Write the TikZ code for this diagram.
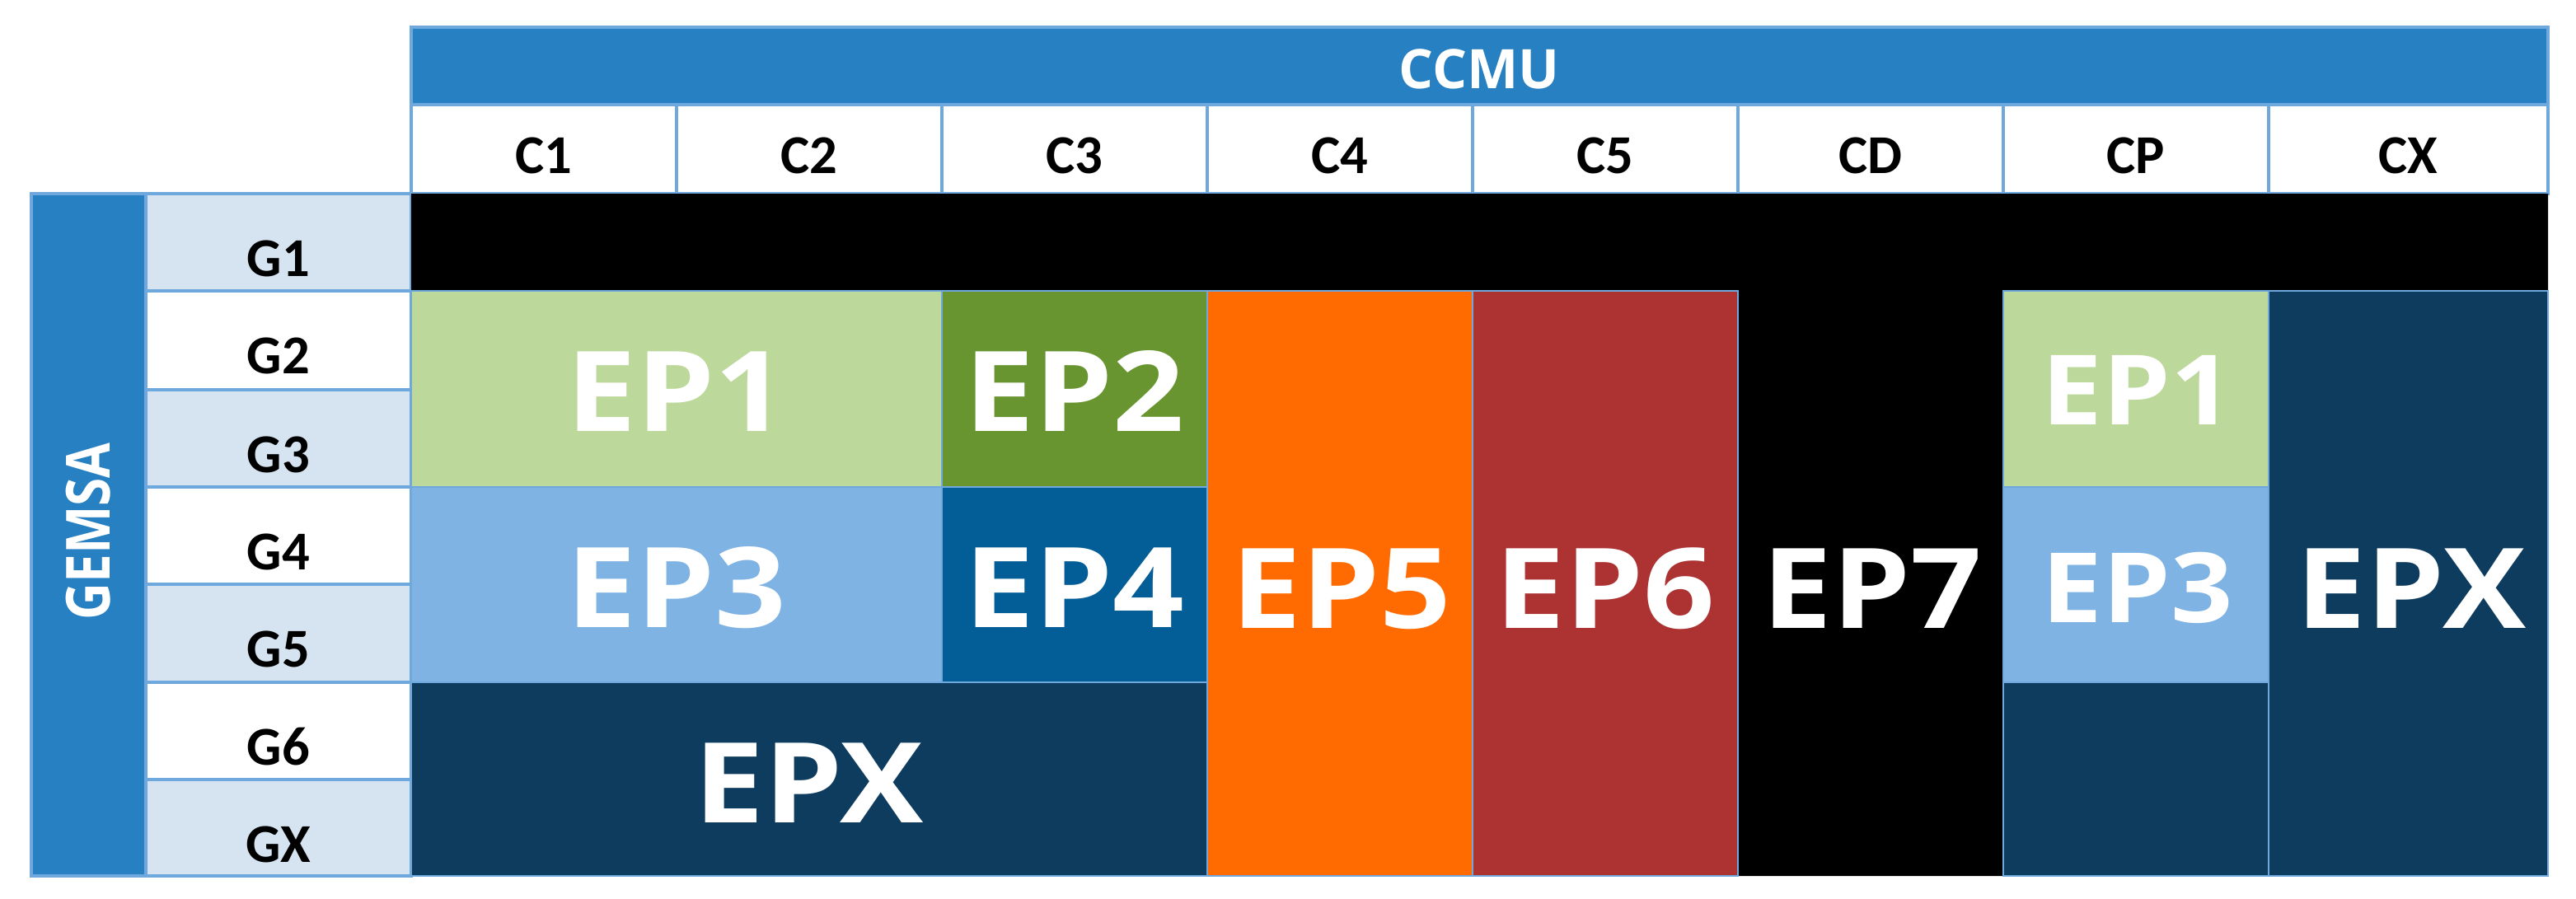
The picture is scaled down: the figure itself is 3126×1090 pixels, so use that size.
\documentclass[tikz,border=0pt]{standalone}
\usepackage{fontspec}
\setmainfont{Carlito}
\newfontfamily\osans{Open Sans}
\newfontfamily\epfont{Open Sans}[FakeStretch=1.12]
\newfontfamily\gemfont{Open Sans}[FakeStretch=0.84]
\definecolor{headblue}{RGB}{38,128,194}
\definecolor{gridline}{RGB}{111,168,220}
\definecolor{lightrow}{RGB}{214,228,241}
\definecolor{epone}{RGB}{188,216,154}
\definecolor{eptwo}{RGB}{105,149,48}
\definecolor{epthree}{RGB}{126,179,228}
\definecolor{epfour}{RGB}{3,94,151}
\definecolor{epfive}{RGB}{255,107,0}
\definecolor{epsix}{RGB}{173,51,51}
\definecolor{epx}{RGB}{14,60,94}
\begin{document}
\begin{tikzpicture}[x=0.01cm,y=-0.01cm,
  cellbox/.style={draw=gridline, line width=1.1pt},
  blockbox/.style={draw=gridline, line width=0.6pt},
  hdrlabel/.style={font=\fontsize{18.9}{20}\selectfont\bfseries, text=black, anchor=base, inner sep=0pt},
  eplabel/.style={font=\epfont\fontsize{38.5}{40}\selectfont\bfseries, text=white, anchor=base, inner sep=0pt},
  epsmall/.style={font=\epfont\fontsize{33.5}{35}\selectfont\bfseries, text=white, anchor=base, inner sep=0pt},
  titlelabel/.style={font=\osans\fontsize{18.8}{20}\selectfont\bfseries, text=white, inner sep=0pt},
  sidelabel/.style={font=\gemfont\fontsize{21}{22}\selectfont\bfseries, text=white, inner sep=0pt}]
\useasboundingbox (0,0) rectangle (3126,1090);
\fill[white] (0,0) rectangle (3126,1090);

% CCMU header
\draw[cellbox, fill=headblue] (499,33) rectangle (3092,127);
\node[titlelabel, anchor=base] (ccmu) at (1795,107) {CCMU};

% column headers
\draw[cellbox, fill=white] (499,127) rectangle (821,235);
\draw[cellbox, fill=white] (821,127) rectangle (1143,235);
\draw[cellbox, fill=white] (1143,127) rectangle (1465,235);
\draw[cellbox, fill=white] (1465,127) rectangle (1787,235);
\draw[cellbox, fill=white] (1787,127) rectangle (2109,235);
\draw[cellbox, fill=white] (2109,127) rectangle (2431,235);
\draw[cellbox, fill=white] (2431,127) rectangle (2753,235);
\draw[cellbox, fill=white] (2753,127) rectangle (3092,235);
\node[hdrlabel] (c1) at (660,210) {C1};
\node[hdrlabel] (c2) at (982,210) {C2};
\node[hdrlabel] (c3) at (1304,210) {C3};
\node[hdrlabel] (c4) at (1626,210) {C4};
\node[hdrlabel] (c5) at (1948,210) {C5};
\node[hdrlabel] (cd) at (2270,210) {CD};
\node[hdrlabel] (cp) at (2592,210) {CP};
\node[hdrlabel] (cx) at (2922,210) {CX};

% GEMSA
\draw[cellbox, fill=headblue] (38,235) rectangle (177,1063);
\node[sidelabel, rotate=90] (gemsa) at (107,645) {GEMSA};

% row headers
\draw[cellbox, fill=lightrow] (177,235) rectangle (499,353);
\draw[cellbox, fill=white] (177,353) rectangle (499,473);
\draw[cellbox, fill=lightrow] (177,473) rectangle (499,591);
\draw[cellbox, fill=white] (177,591) rectangle (499,709);
\draw[cellbox, fill=lightrow] (177,709) rectangle (499,828);
\draw[cellbox, fill=white] (177,828) rectangle (499,946);
\draw[cellbox, fill=lightrow] (177,946) rectangle (499,1063);
\node[hdrlabel] (g1) at (338,335) {G1};
\node[hdrlabel] (g2) at (338,453) {G2};
\node[hdrlabel] (g3) at (338,573) {G3};
\node[hdrlabel] (g4) at (338,691) {G4};
\node[hdrlabel] (g5) at (338,809) {G5};
\node[hdrlabel] (g6) at (338,928) {G6};
\node[hdrlabel] (gx) at (338,1046) {GX};

% black region (G1 row + CD column)
\fill[black] (499,235) -- (3092,235) -- (3092,353) -- (2431,353) -- (2431,1063)
  -- (2109,1063) -- (2109,353) -- (499,353) -- cycle;

% EP blocks
\draw[blockbox, fill=epone] (499,353) rectangle (1143,591);
\draw[blockbox, fill=eptwo] (1143,353) rectangle (1465,591);
\draw[blockbox, fill=epthree] (499,591) rectangle (1143,828);
\draw[blockbox, fill=epfour] (1143,591) rectangle (1465,828);
\draw[blockbox, fill=epx] (499,828) rectangle (1465,1063);
\draw[blockbox, fill=epfive] (1465,353) rectangle (1787,1063);
\draw[blockbox, fill=epsix] (1787,353) rectangle (2109,1063);
\draw[blockbox, fill=epone] (2431,353) rectangle (2753,591);
\draw[blockbox, fill=epthree] (2431,591) rectangle (2753,828);
\draw[blockbox, fill=epx] (2431,828) rectangle (2753,1063);
\draw[blockbox, fill=epx] (2753,353) rectangle (3092,1063);

% labels
\node[eplabel] (ep1) at (821,523) {EP1};
\node[eplabel] (ep2) at (1304,523) {EP2};
\node[eplabel] (ep3) at (821,761) {EP3};
\node[eplabel] (ep4) at (1304,761) {EP4};
\node[eplabel] (epxa) at (982,998) {EPX};
\node[eplabel] (ep5) at (1628,762) {EP5};
\node[eplabel] (ep6) at (1948,762) {EP6};
\node[eplabel] (ep7) at (2272,762) {EP7};
\node[epsmall] (ep1b) at (2594,515) {EP1};
\node[epsmall] (ep3b) at (2594,755) {EP3};
\node[eplabel] (epxb) at (2926,762) {EPX};
\end{tikzpicture}
\end{document}
